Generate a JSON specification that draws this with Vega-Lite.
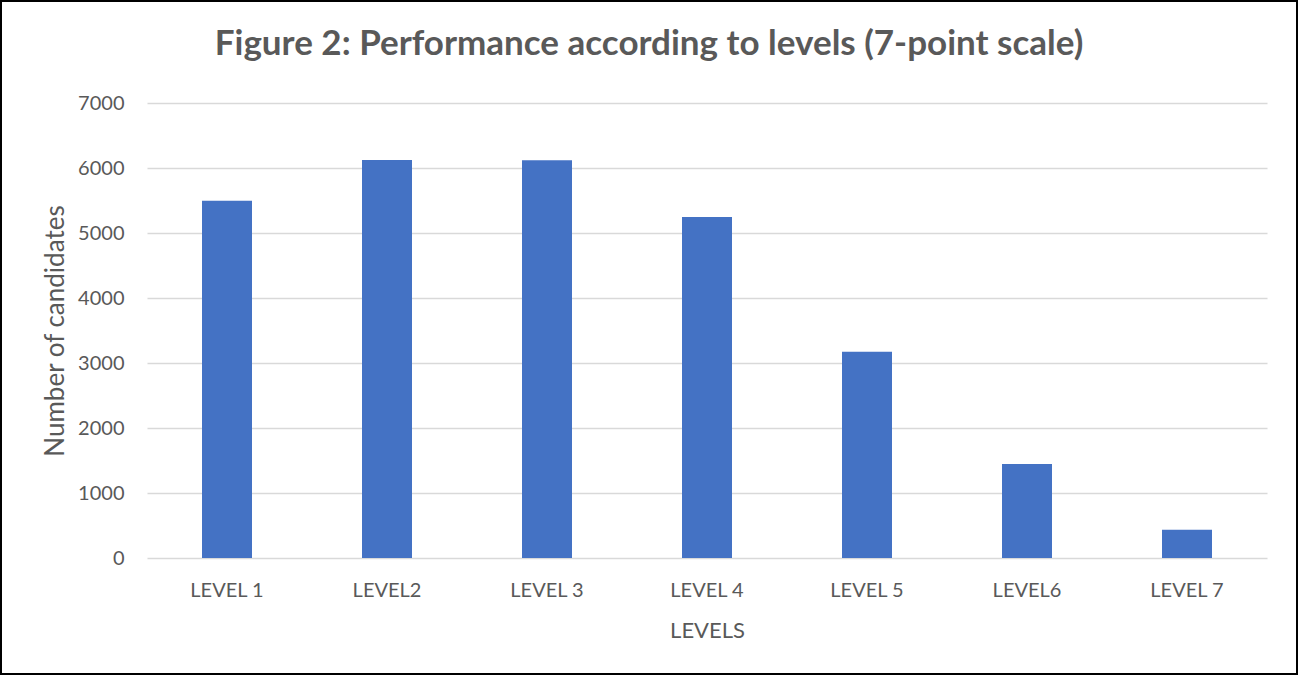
{
  "$schema": "https://vega.github.io/schema/vega-lite/v6.json",
  "width": 1296,
  "height": 673,
  "autosize": "none",
  "padding": 1,
  "background": "white",
  "config": {
    "view": {"stroke": "black", "strokeWidth": 2},
    "font": "Lato"
  },
  "title": {
    "text": "Figure 2: Performance according to levels (7-point scale)",
    "font": "Lato",
    "fontSize": 35,
    "fontWeight": "bold",
    "color": "#595959",
    "anchor": "middle",
    "baseline": "alphabetic",
    "offset": -89
  },
  "data": {
    "values": [
      {"level": "LEVEL 1", "candidates": 5497},
      {"level": "LEVEL2", "candidates": 6123},
      {"level": "LEVEL 3", "candidates": 6120},
      {"level": "LEVEL 4", "candidates": 5246},
      {"level": "LEVEL 5", "candidates": 3174},
      {"level": "LEVEL6", "candidates": 1446},
      {"level": "LEVEL 7", "candidates": 435}
    ]
  },
  "mark": {"type": "bar", "color": "#4472C4"},
  "encoding": {
    "x": {
      "field": "level",
      "type": "nominal",
      "sort": null,
      "scale": {"range": [146, 1266], "paddingInner": 0.6875, "paddingOuter": 0.34375},
      "axis": {
        "title": "LEVELS",
        "orient": "bottom",
        "offset": -116,
        "domain": false,
        "ticks": false,
        "tickSize": 0,
        "labelAngle": 0,
        "labelFont": "Lato",
        "labelFontSize": 20,
        "labelColor": "#595959",
        "labelBaseline": "alphabetic",
        "labelPadding": 38,
        "titleFont": "Lato",
        "titleFontSize": 22,
        "titleFontWeight": "normal",
        "titleColor": "#595959",
        "titlePadding": 20
      }
    },
    "y": {
      "field": "candidates",
      "type": "quantitative",
      "scale": {"domain": [0, 7000], "range": [557, 102], "nice": false},
      "axis": {
        "title": "Number of candidates",
        "orient": "left",
        "offset": -146,
        "values": [0, 1000, 2000, 3000, 4000, 5000, 6000, 7000],
        "format": "d",
        "domain": false,
        "ticks": false,
        "tickSize": 0,
        "grid": true,
        "gridColor": "#D9D9D9",
        "gridWidth": 1.5,
        "labelFont": "Lato",
        "labelFontSize": 20,
        "labelColor": "#595959",
        "labelPadding": 23,
        "titleFont": "Lato",
        "titleFontSize": 26,
        "titleFontWeight": "normal",
        "titleColor": "#595959",
        "titlePadding": 9
      }
    }
  }
}
